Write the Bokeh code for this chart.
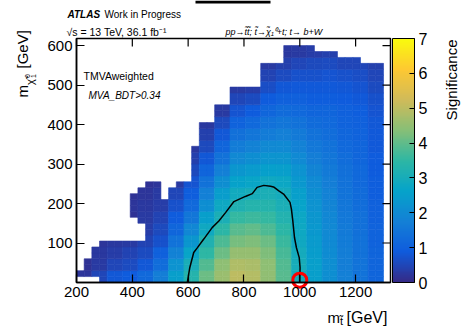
import numpy as np
from bokeh.plotting import figure
from bokeh.models import (ColumnDataSource, LinearColorMapper, ColorBar, FixedTicker,
                          Label, Range1d)
from bokeh.embed import file_html
from bokeh.resources import INLINE

# ---------------- data ----------------
# histogram binning (stop mass on x, neutralino mass on y)
x_lo, x_hi, nx = 200.0, 1300.0, 40
y_lo, y_hi, ny = 0.0, 600.0, 40

# filled rows for every stop-mass column (lowest / highest row index)
col_row_lo = [1, 1, 1, 0, 0, 0, 0, 0, 0, 0,
              0, 0, 0, 0, 0, 0, 0, 0, 0, 0,
              0, 0, 0, 0, 0, 0, 0, 0, 0, 0,
              0, 0, 0, 0, 0, 0, 0, 0, 0, 0]
col_row_hi = [1, 3, 5, 6, 6, 6, 6, 6, 6, 16,
              16, 13, 15, 16, 16, 22, 26, 26, 29, 29,
              32, 32, 32, 32, 36, 36, 36, 39, 39, 39,
              39, 38, 38, 38, 37, 37, 37, 36, 36, 36]
# detached island of filled cells
island_col = [7, 8]
island_lo = [11, 10]
island_hi = [14, 15]

# significance read on 2x2-bin blocks (55 GeV x 30 GeV), rows from m_chi = 0 upward
N = None
sig_r00 = [0.2, 0.5, 0.8, 0.9, 1.2, 1.7, 2.5, 3.3, 4.1, 4.6, 5.0, 4.9, 4.5, 3.9, 3.0, 2.5, 2.1, 1.75, 1.45, 1.1]
sig_r01 = [0.15, 0.3, 0.5, 0.6, 0.8, 1.3, 2.2, 3.05, 3.85, 4.45, 4.85, 4.8, 4.45, 3.85, 3.0, 2.5, 2.1, 1.7, 1.45, 1.1]
sig_r02 = [N, 0.25, 0.35, 0.45, 0.6, 1.0, 1.8, 2.7, 3.5, 4.1, 4.55, 4.55, 4.3, 3.75, 2.95, 2.45, 2.05, 1.7, 1.4, 1.1]
sig_r03 = [N, 0.2, 0.25, 0.3, 0.45, 0.7, 1.45, 2.3, 3.2, 3.8, 4.2, 4.3, 4.1, 3.6, 2.85, 2.4, 2.0, 1.65, 1.4, 1.05]
sig_r04 = [N, N, N, N, 0.35, 0.55, 1.15, 1.9, 2.85, 3.45, 3.9, 4.0, 3.8, 3.45, 2.8, 2.35, 1.95, 1.6, 1.35, 1.05]
sig_r05 = [N, N, N, 0.15, 0.3, 0.45, 0.9, 1.5, 2.5, 3.1, 3.55, 3.65, 3.55, 3.25, 2.75, 2.3, 1.9, 1.55, 1.35, 1.0]
sig_r06 = [N, N, N, 0.2, 0.25, 0.35, 0.7, 1.2, 2.1, 2.8, 3.2, 3.3, 3.3, 3.1, 2.65, 2.2, 1.85, 1.5, 1.3, 1.0]
sig_r07 = [N, N, N, 0.15, 0.2, 0.3, 0.5, 0.95, 1.75, 2.45, 2.9, 3.0, 3.1, 2.95, 2.5, 2.1, 1.8, 1.45, 1.25, 0.95]
sig_r08 = [N, N, N, N, 0.15, 0.2, 0.3, 0.75, 1.4, 2.1, 2.6, 2.7, 2.85, 2.75, 2.35, 2.0, 1.7, 1.4, 1.2, 0.95]
sig_r09 = [N, N, N, N, N, N, N, 0.55, 1.1, 1.75, 2.3, 2.4, 2.55, 2.5, 2.2, 1.85, 1.6, 1.35, 1.2, 0.9]
sig_r10 = [N, N, N, N, N, N, N, 0.4, 0.8, 1.4, 1.95, 2.1, 2.25, 2.25, 2.0, 1.7, 1.5, 1.3, 1.15, 0.9]
sig_r11 = [N, N, N, N, N, N, N, 0.25, 0.55, 1.1, 1.65, 1.8, 1.95, 2.0, 1.8, 1.55, 1.4, 1.2, 1.1, 0.85]
sig_r12 = [N, N, N, N, N, N, N, N, 0.4, 0.8, 1.35, 1.5, 1.65, 1.75, 1.6, 1.4, 1.3, 1.15, 1.05, 0.85]
sig_r13 = [N, N, N, N, N, N, N, N, 0.25, 0.55, 1.05, 1.2, 1.4, 1.5, 1.4, 1.25, 1.2, 1.05, 1.0, 0.8]
sig_r14 = [N, N, N, N, N, N, N, N, N, 0.3, 0.75, 0.9, 1.15, 1.25, 1.2, 1.1, 1.1, 1.0, 0.95, 0.75]
sig_r15 = [N, N, N, N, N, N, N, N, N, N, 0.5, 0.6, 0.9, 1.0, 1.0, 0.95, 0.95, 0.9, 0.85, 0.7]
sig_r16 = [N, N, N, N, N, N, N, N, N, N, 0.3, 0.35, 0.65, 0.8, 0.85, 0.85, 0.85, 0.8, 0.75, 0.6]
sig_r17 = [N, N, N, N, N, N, N, N, N, N, N, N, 0.45, 0.6, 0.7, 0.7, 0.75, 0.7, 0.65, 0.5]
sig_r18 = [N, N, N, N, N, N, N, N, N, N, N, N, 0.3, 0.4, 0.5, 0.55, 0.6, 0.5, 0.5, 0.4]
sig_r19 = [N, N, N, N, N, N, N, N, N, N, N, N, N, 0.25, 0.3, 0.35, 0.4, N, N, N]

# black contour line
contour_x = [597, 606, 620, 632, 656, 686, 710, 734, 764, 805, 830, 847, 871, 895, 906, 925,
             942, 965, 970, 975, 981, 988, 998, 1001, 1000]
contour_y = [0, 38, 76, 87, 110, 139, 156, 177, 205, 218, 225, 241, 246, 244, 242, 232,
             224, 203, 186, 156, 114, 88, 63, 38, 0]

# highlighted benchmark point
bench_x = [1000]
bench_y = [6]

x_ticks = [200, 400, 600, 800, 1000, 1200]
y_ticks = [100, 200, 300, 400, 500, 600]
z_ticks = [0, 1, 2, 3, 4, 5, 6, 7]
z_lo, z_hi = 0, 7
x_view = (200, 1325)
y_view = (0, 618)

# ---------------- palette (ROOT kBird) ----------------
bird_r = [0.2082, 0.0592, 0.0780, 0.0232, 0.1802, 0.5301, 0.8186, 0.9956, 0.9764]
bird_g = [0.1664, 0.3599, 0.5041, 0.6419, 0.7178, 0.7492, 0.7328, 0.7862, 0.9832]
bird_b = [0.5293, 0.8684, 0.8385, 0.7914, 0.6425, 0.4662, 0.3499, 0.1968, 0.0539]
stops = np.linspace(0, 1, 9)
tt = np.linspace(0, 1, 255)
palette = ["#%02x%02x%02x" % (int(round(255 * np.interp(t, stops, bird_r))),
                              int(round(255 * np.interp(t, stops, bird_g))),
                              int(round(255 * np.interp(t, stops, bird_b)))) for t in tt]

# ---------------- cells ----------------
sig_grid = [sig_r00, sig_r01, sig_r02, sig_r03, sig_r04, sig_r05, sig_r06, sig_r07, sig_r08, sig_r09,
            sig_r10, sig_r11, sig_r12, sig_r13, sig_r14, sig_r15, sig_r16, sig_r17, sig_r18, sig_r19]
dx = (x_hi - x_lo) / nx
dy = (y_hi - y_lo) / ny
cells = dict(left=[], right=[], bottom=[], top=[], sig=[])


def add_cell(i, j):
    v = sig_grid[j // 2][i // 2]
    if v is None:
        return
    cells["left"].append(x_lo + i * dx)
    cells["right"].append(x_lo + (i + 1) * dx)
    cells["bottom"].append(y_lo + j * dy)
    cells["top"].append(y_lo + (j + 1) * dy)
    cells["sig"].append(v)


for i in range(nx):
    for j in range(col_row_lo[i], col_row_hi[i] + 1):
        add_cell(i, j)
for c, lo, hi in zip(island_col, island_lo, island_hi):
    for j in range(lo, hi + 1):
        add_cell(c, j)

src = ColumnDataSource(cells)
mapper = LinearColorMapper(palette=palette, low=z_lo, high=z_hi)

# ---------------- geometry ----------------
W, H = 462, 328
PX0, PX1 = 76, 390      # canvas x of the plot box edges
PY0, PY1 = 282, 38      # canvas y of the plot box bottom / top
x0, x1 = x_view
y0, y1 = y_view
kx = (PX1 - PX0) / (x1 - x0)
ky = (PY0 - PY1) / (y1 - y0)
xr = Range1d(x0 - PX0 / kx, x0 + (W - PX0) / kx)
yr = Range1d(y0 - (H - PY0) / ky, y1 + PY1 / ky)


def dxp(px):  # canvas pixel -> data x
    return x0 + (px - PX0) / kx


def dyp(py):  # canvas pixel -> data y
    return y0 + (PY0 - py) / ky


FONT = "Liberation Sans"

p = figure(width=W, height=H, x_range=xr, y_range=yr,
           output_backend="svg", toolbar_location=None,
           min_border=0, min_border_left=0, min_border_right=0,
           min_border_top=0, min_border_bottom=0)
p.background_fill_color = "white"
p.border_fill_color = "white"
p.outline_line_color = None
p.xgrid.visible = False
p.ygrid.visible = False

# heat map
p.quad(left="left", right="right", bottom="bottom", top="top", source=src,
       fill_color={"field": "sig", "transform": mapper},
       line_color={"field": "sig", "transform": mapper}, line_width=0.6)

p.line(contour_x, contour_y, line_color="black", line_width=1.5)
p.scatter(bench_x, bench_y, marker="circle", size=14, fill_color=None,
          line_color="#ff0000", line_width=3)

# plot box
p.quad(left=[x0], right=[x1], bottom=[y0], top=[y1], fill_color=None,
       line_color="black", line_width=1.5)

# mirrored ticks on top and right edges (8 px long, pointing inwards)
tick_len = 8
p.segment(x0=x_ticks, y0=[y1] * len(x_ticks), x1=x_ticks,
          y1=[y1 - tick_len / ky] * len(x_ticks), line_color="black", line_width=1.2)
p.segment(x0=[x1] * len(y_ticks), y0=y_ticks, x1=[x1 - tick_len / kx] * len(y_ticks),
          y1=y_ticks, line_color="black", line_width=1.2)


def style_axis(ax, ticks, loc, bounds):
    ax.fixed_location = loc
    ax.bounds = bounds
    ax.ticker = FixedTicker(ticks=ticks)
    ax.major_tick_in = tick_len
    ax.major_tick_out = 0
    ax.minor_tick_line_color = None
    ax.major_tick_line_color = "black"
    ax.major_tick_line_width = 1.2
    ax.axis_line_color = "black"
    ax.axis_line_width = 1.5
    ax.major_label_text_font = FONT
    ax.major_label_text_color = "black"
    ax.major_label_text_font_size = "15px"
    ax.major_label_standoff = 4


style_axis(p.xaxis[0], x_ticks, y0, (x0, x1))
style_axis(p.yaxis[0], y_ticks, x0, (y0, y1))

cb = ColorBar(color_mapper=mapper, width=22, height=PY0 - PY1,
              location=(392, H - PY0), margin=0, padding=0,
              ticker=FixedTicker(ticks=z_ticks),
              major_label_text_font=FONT, major_label_text_font_size="16px",
              major_label_text_color="black", label_standoff=4,
              major_tick_line_color="black", major_tick_in=5, major_tick_out=0,
              minor_tick_line_color=None,
              bar_line_color="black", bar_line_width=1,
              background_fill_color=None, border_line_color=None)
p.add_layout(cb, "center")

# clipped title box at the very top
p.quad(left=[dxp(195)], right=[dxp(270)], bottom=[dyp(3)], top=[dyp(0)],
       fill_color="black", line_color=None)


# ---------------- texts ----------------
def add_text(txt, px, py, size, style="normal", align="left", angle=0.0, color="black"):
    p.add_layout(Label(x=dxp(px), y=dyp(py), text=txt, text_font=FONT,
                       text_font_size=f"{size}px", text_font_style=style,
                       text_align=align, text_baseline="alphabetic",
                       angle=angle, text_color=color))


add_text("ATLAS", 67, 13.5, 10, "bold italic")
add_text("Work in Progress", 104, 13.5, 10)
add_text("\u221As = 13 TeV, 36.1 fb\u207B\u00B9", 66, 31.5, 10.5)
add_text("pp\u2192t\u0303t\u0303; t\u0303\u2192\u03C7\u0303\u2081\u2070+t; t\u2192 b+W", 225, 31.5, 9, "italic")
add_text("TMVAweighted", 83, 75, 10.5)
add_text("MVA_BDT>0.34", 88, 95, 10, "italic")

# colour-axis title
add_text("Significance", 451, 39, 15, align="right", angle=np.pi / 2)

# y-axis title  m_{chi~^0_1} [GeV]
add_text("m", 22, 97, 15, angle=np.pi / 2)
add_text("\u03C7\u0303", 29.5, 84.5, 11, angle=np.pi / 2)
add_text("0", 26.5, 77.5, 7, angle=np.pi / 2)
add_text("1", 33, 77.5, 7, angle=np.pi / 2)
add_text("[GeV]", 22, 68, 15, angle=np.pi / 2)

# x-axis title  m_{t~} [GeV]
add_text("m", 327, 317, 15)
add_text("t\u0303", 339.5, 320, 11)
add_text("[GeV]", 346, 317, 16)

open("out.html", "w").write(file_html(p, INLINE))
